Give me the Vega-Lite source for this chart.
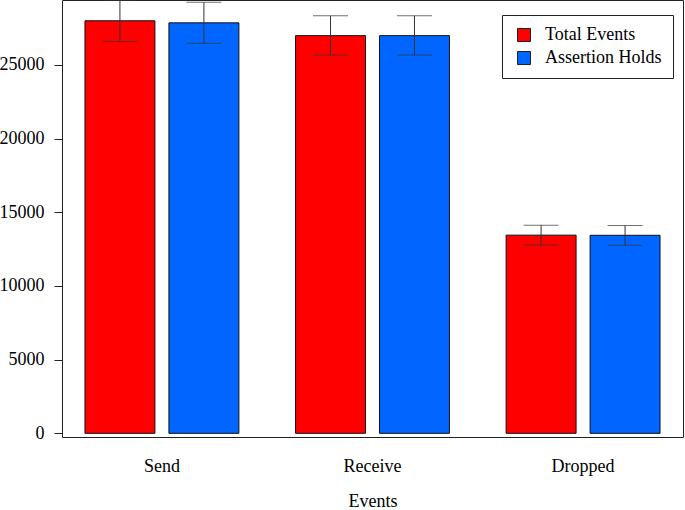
{
  "$schema": "https://vega.github.io/schema/vega-lite/v6.json",
  "width": 621,
  "height": 437,
  "autosize": {"type": "none"},
  "padding": {"left": 62, "top": 0, "right": 2, "bottom": 73},
  "background": "white",
  "config": {
    "view": {"stroke": "#222", "strokeWidth": 1},
    "font": "Liberation Serif",
    "axis": {"labelFont": "Liberation Serif", "titleFont": "Liberation Serif", "labelColor": "black", "titleColor": "black", "grid": false},
    "legend": {"labelFont": "Liberation Serif"}
  },
  "data": {
    "values": [
      {"event": "Send", "series": "Total Events", "value": 28000, "lo": 26600, "hi": 29400},
      {"event": "Send", "series": "Assertion Holds", "value": 27860, "lo": 26470, "hi": 29250},
      {"event": "Receive", "series": "Total Events", "value": 26990, "lo": 25680, "hi": 28340},
      {"event": "Receive", "series": "Assertion Holds", "value": 26990, "lo": 25680, "hi": 28340},
      {"event": "Dropped", "series": "Total Events", "value": 13450, "lo": 12780, "hi": 14120},
      {"event": "Dropped", "series": "Assertion Holds", "value": 13440, "lo": 12770, "hi": 14110}
    ]
  },
  "encoding": {
    "x": {
      "field": "event",
      "type": "nominal",
      "sort": ["Send", "Receive", "Dropped"],
      "scale": {"paddingInner": 0.269, "paddingOuter": 0.109},
      "axis": {
        "title": "Events",
        "labelAngle": 0,
        "labelFontSize": 18,
        "titleFontSize": 18,
        "titleFontWeight": "normal",
        "ticks": false,
        "tickSize": 0,
        "domain": false,
        "labelPadding": 20,
        "titlePadding": 17
      }
    },
    "xOffset": {
      "field": "series",
      "type": "nominal",
      "sort": ["Total Events", "Assertion Holds"],
      "scale": {"paddingInner": 0.1667, "paddingOuter": 0}
    }
  },
  "layer": [
    {
      "mark": {"type": "bar", "stroke": "#111", "strokeWidth": 1},
      "encoding": {
        "y": {
          "field": "value",
          "type": "quantitative",
          "scale": {"domain": [-250, 29410], "nice": false, "zero": false},
          "axis": {
            "title": null,
            "values": [0, 5000, 10000, 15000, 20000, 25000],
            "format": "d",
            "labelFontSize": 18,
            "tickSize": 8,
            "tickColor": "#222",
            "labelPadding": 10,
            "domain": false
          }
        },
        "color": {
          "field": "series",
          "type": "nominal",
          "sort": ["Total Events", "Assertion Holds"],
          "scale": {"domain": ["Total Events", "Assertion Holds"], "range": ["#FF0000", "#0066FF"]},
          "legend": {
            "title": null,
            "orient": "none",
            "legendX": 440,
            "legendY": 15,
            "direction": "vertical",
            "strokeColor": "#222",
            "fillColor": "white",
            "padding": 11,
            "symbolType": "square",
            "symbolSize": 169,
            "symbolOffset": 2,
            "symbolStrokeColor": "#222",
            "symbolStrokeWidth": 1,
            "labelFontSize": 18,
            "labelColor": "black",
            "labelOffset": 12,
            "rowPadding": 5
          }
        }
      }
    },
    {
      "mark": {"type": "rule", "color": "#333", "strokeWidth": 1, "clip": true},
      "encoding": {
        "y": {"field": "lo", "type": "quantitative"},
        "y2": {"field": "hi"}
      }
    },
    {
      "mark": {"type": "tick", "color": "#333", "thickness": 1, "size": 35, "clip": true},
      "encoding": {
        "y": {"field": "lo", "type": "quantitative"}
      }
    },
    {
      "mark": {"type": "tick", "color": "#333", "thickness": 1, "size": 35, "clip": true},
      "encoding": {
        "y": {"field": "hi", "type": "quantitative"}
      }
    }
  ]
}
